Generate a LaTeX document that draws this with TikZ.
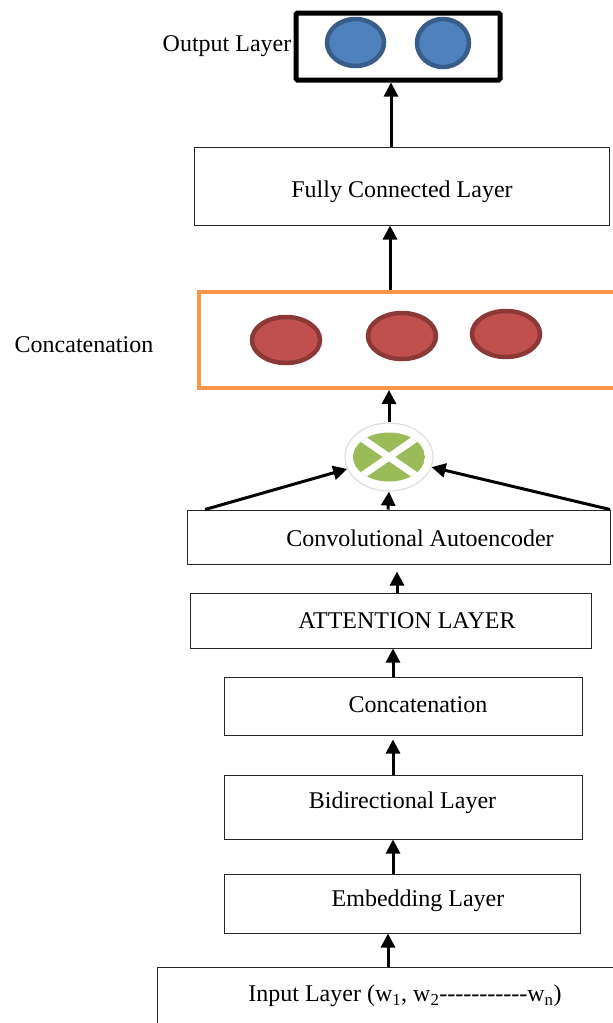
\documentclass[tikz,border=0pt]{standalone}
\usepackage{fontspec}
\setmainfont{Liberation Serif}[Ligatures=TeXOff]
\usetikzlibrary{arrows.meta,shapes.geometric,calc}
\definecolor{blueF}{HTML}{4F81BD}
\definecolor{blueB}{HTML}{385D8A}
\definecolor{redF}{HTML}{C0504D}
\definecolor{redB}{HTML}{8C3836}
\definecolor{orangeB}{HTML}{F79646}
\definecolor{greenF}{HTML}{9BBB59}
\tikzset{
  layer/.style={draw=black!85, line width=1pt, rectangle, inner sep=0pt, fill=white},
  lbl/.style={font=\fontsize{24}{28}\selectfont, inner sep=0pt},
  arr/.style={line width=3pt, -{Triangle[length=14pt,width=14pt]}},
  bluenode/.style={draw=blueB, fill=blueF, line width=4.5pt, ellipse, inner sep=0pt},
  rednode/.style={draw=redB, fill=redF, line width=4.5pt, ellipse, inner sep=0pt},
}
\begin{document}
\begin{tikzpicture}[x=1pt,y=-1pt]
\useasboundingbox (0,0) rectangle (613,1023);
\clip (0,0) rectangle (613,1023);
% output layer
\node[draw=black, line width=5pt, rounded corners=1.5pt, inner sep=0pt, minimum width=204pt, minimum height=67pt] (out) at (398,46.5) {};
\node[bluenode, minimum width=57pt, minimum height=47pt] (o1) at (355.5,42.5) {};
\node[bluenode, minimum width=52pt, minimum height=48pt] (o2) at (443,43) {};
\node[lbl] (outlbl) at (227,46) {Output Layer};
% fully connected
\node[layer, minimum width=415pt, minimum height=78pt] (fc) at (401.5,186) {};
\node[lbl] (fclbl) at (402,192) {Fully Connected Layer};
% concatenation (orange)
\node[draw=orangeB, line width=4pt, inner sep=0pt, minimum width=440pt, minimum height=96pt] (cat) at (419,340) {};
\node[rednode, minimum width=68pt, minimum height=46pt] (r1) at (286,340) {};
\node[rednode, minimum width=68pt, minimum height=46pt] (r2) at (402,336) {};
\node[rednode, minimum width=68pt, minimum height=46pt] (r3) at (506,334) {};
\node[lbl] (catlbl) at (84,345) {Concatenation};
% multiply node
\node[ellipse, fill=white, draw=black!12, line width=1.2pt, minimum width=88pt, minimum height=68pt, inner sep=0pt] (mult) at (389,457) {};
\begin{scope}
\clip (389,457) ellipse [x radius=36pt, y radius=24.5pt];
\fill[greenF] (389,457) ellipse [x radius=36pt, y radius=24.5pt];
\draw[white, line width=7pt] (360,437) -- (418,477);
\draw[white, line width=7pt] (360,477) -- (418,437);
\end{scope}
% conv autoencoder
\node[layer, minimum width=423pt, minimum height=54pt] (conv) at (398.5,537) {};
\node[lbl] (convlbl) at (420,538) {Convolutional Autoencoder};
\coordinate (cl) at (205,509.5);
\coordinate (cr) at (610,509.5);
% attention
\node[layer, minimum width=401pt, minimum height=55pt] (att) at (390.5,620.5) {};
\node[lbl] (attlbl) at (407,621) {ATTENTION LAYER};
% concatenation
\node[layer, minimum width=358pt, minimum height=58pt] (cc) at (403,706) {};
\node[lbl] (cclbl) at (418,705) {Concatenation};
% bidirectional
\node[layer, minimum width=358pt, minimum height=64pt] (bi) at (403,807) {};
\node[lbl] (bilbl) at (402.5,803) {Bidirectional Layer};
% embedding
\node[layer, minimum width=356pt, minimum height=59pt] (emb) at (402,903.5) {};
\node[lbl] (emblbl) at (418,901) {Embedding Layer};
% input
\node[layer, minimum width=470pt, minimum height=80pt] (inp) at (392,1007) {};
\node[lbl] (inplbl) at (405,996) {Input Layer (w\textsubscript{1}, w\textsubscript{2}-----------w\textsubscript{n})};
% arrows
\draw[arr] (fc.north -| 391,0) -- (out.south -| 391,0);
\draw[arr] (cat.north -| 390,0) -- (fc.south -| 390,0);
\draw[arr] (mult.north) -- (cat.south -| 389,0);
\draw[arr] (cl) -- (mult);
\draw[arr] (cr) -- (mult);
\draw[arr] (conv.north -| 388,0) -- (mult.south);
\draw[arr] (att.north -| 397,0) -- ($(conv.south -| 397,0)+(0,7)$);
\draw[arr] (cc.north -| 393,0) -- (att.south -| 393,0);
\draw[arr] (bi.north -| 393,0) -- ($(cc.south -| 393,0)+(0,4)$);
\draw[arr] (emb.north -| 393,0) -- (bi.south -| 393,0);
\draw[arr] (inp.north -| 388,0) -- (emb.south -| 388,0);
\end{tikzpicture}
\end{document}
